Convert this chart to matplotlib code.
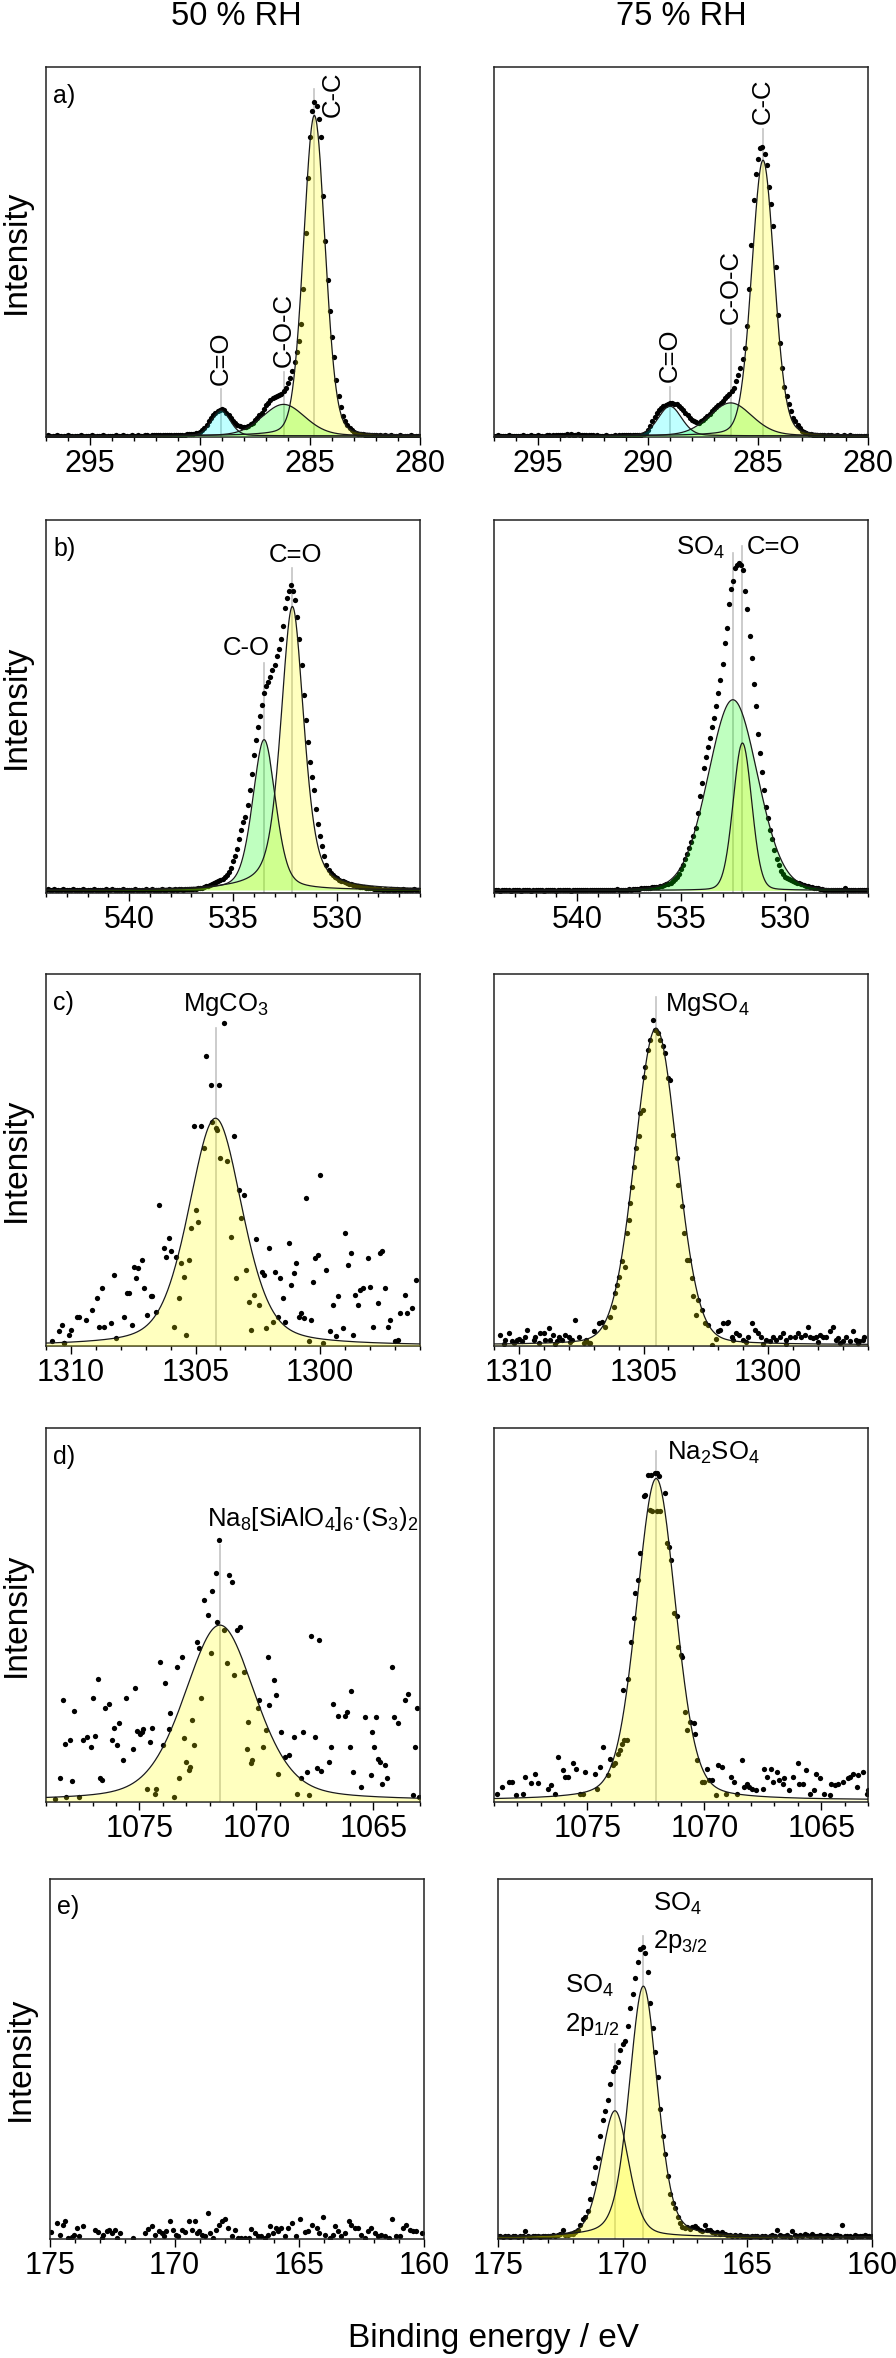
import matplotlib.pyplot as plt
import numpy as np
from matplotlib.ticker import MultipleLocator, FormatStrFormatter

plt.rcParams['font.family'] = ['Liberation Sans', 'DejaVu Sans']
plt.rcParams['mathtext.fontset'] = 'custom'
plt.rcParams['mathtext.rm'] = 'Liberation Sans'
plt.rcParams['mathtext.it'] = 'Liberation Sans:italic'
plt.rcParams['mathtext.default'] = 'regular'

# ---------------- data (intensity in % of panel height) ----------------
# C 1s, 50 % RH, 0.1 eV steps from 297.0 eV
a50_start = 297.0
a50_int = [0.3, 0.4, 0.3, 0.2, 0.3, 0.4, 0.3, 0.3, 0.2, 0.3,
           0.4, 0.3, 0.3, 0.2, 0.3, 0.3, 0.4, 0.3, 0.2, 0.3,
           0.3, 0.4, 0.3, 0.3, 0.2, 0.3, 0.4, 0.3, 0.3, 0.3,
           0.2, 0.3, 0.4, 0.3, 0.3, 0.4, 0.3, 0.2, 0.3, 0.4,
           0.3, 0.3, 0.4, 0.3, 0.3, 0.4, 0.4, 0.3, 0.4, 0.4,
           0.4, 0.5, 0.4, 0.4, 0.5, 0.5, 0.4, 0.5, 0.5, 0.5,
           0.5, 0.5, 0.6, 0.6, 0.7, 0.7, 0.8, 0.9, 1.0, 1.1,
           1.3, 1.8, 2.5, 3.3, 4.2, 5.0, 5.8, 6.5, 7.0, 7.4,
           7.5, 7.2, 6.6, 5.9, 5.1, 4.4, 3.8, 3.3, 3.0, 2.8,
           2.7, 2.8, 3.0, 3.4, 3.9, 4.5, 5.1, 5.9, 6.6, 7.5,
           8.5, 9.3, 10.0, 10.5, 10.9, 11.1, 11.3, 11.7, 12.3, 13.2,
           14.5, 15.9, 17.8, 20.2, 23.0, 26.0, 30.5, 40.0, 55.0, 70.0,
           81.0, 88.0, 90.5, 89.5, 86.0, 81.0, 65.0, 53.0, 42.5, 34.0,
           27.0, 21.5, 15.5, 11.0, 8.0, 5.7, 4.3, 3.3, 2.4, 1.8,
           1.4, 1.1, 0.9, 0.8, 0.7, 0.6, 0.5, 0.5, 0.4, 0.4,
           0.4, 0.3, 0.4, 0.3, 0.4, 0.3, 0.3, 0.4, 0.3, 0.3,
           0.3, 0.4, 0.3, 0.3, 0.2, 0.3, 0.4, 0.3, 0.3, 0.3,
           0.3]
# C 1s, 75 % RH
a75_start = 297.0
a75_int = [0.3, 0.3, 0.4, 0.3, 0.2, 0.3, 0.3, 0.4, 0.3, 0.3,
           0.3, 0.2, 0.3, 0.4, 0.3, 0.3, 0.3, 0.4, 0.3, 0.3,
           0.4, 0.3, 0.3, 0.3, 0.4, 0.4, 0.3, 0.4, 0.5, 0.5,
           0.6, 0.5, 0.6, 0.7, 0.6, 0.7, 0.6, 0.6, 0.7, 0.6,
           0.5, 0.6, 0.5, 0.5, 0.4, 0.4, 0.3, 0.4, 0.3, 0.3,
           0.3, 0.4, 0.3, 0.3, 0.3, 0.4, 0.3, 0.4, 0.4, 0.4,
           0.4, 0.4, 0.5, 0.4, 0.5, 0.5, 0.5, 0.6, 0.7, 1.1,
           1.8, 2.9, 4.2, 5.4, 6.4, 7.2, 7.8, 8.3, 8.7, 9.0,
           9.2, 9.1, 9.0, 8.8, 8.4, 7.9, 7.2, 6.5, 5.9, 5.2,
           4.6, 4.2, 4.0, 3.9, 4.3, 4.7, 5.1, 5.6, 6.3, 6.9,
           7.5, 8.0, 8.6, 9.3, 9.8, 10.4, 11.0, 11.7, 12.4, 13.2,
           15.0, 16.8, 18.6, 21.0, 24.0, 30.0, 40.0, 52.0, 64.0, 71.0,
           75.0, 78.0, 78.5, 76.5, 73.5, 67.5, 63.0, 57.0, 46.0, 33.0,
           25.5, 18.5, 13.5, 11.0, 9.0, 7.0, 5.2, 4.4, 3.2, 2.3,
           1.7, 1.3, 1.0, 0.8, 0.7, 0.6, 0.5, 0.5, 0.4, 0.4,
           0.4, 0.3, 0.4, 0.4, 0.3, 0.3, 0.4, 0.3, 0.3, 0.4,
           0.3, 0.3, 0.4, 0.3, 0.3, 0.3, 0.2, 0.3, 0.3, 0.3,
           0.3]
# O 1s, 50 % RH, 0.1 eV steps from 544.0 eV
b50_start = 544.0
b50_int = [0.9, 1.0, 0.8, 0.9, 1.0, 0.9, 0.8, 0.9, 1.0, 0.9,
           0.8, 0.9, 0.9, 1.0, 0.9, 0.8, 0.9, 0.9, 1.0, 0.9,
           0.9, 0.8, 0.9, 1.0, 0.9, 0.9, 0.8, 0.9, 0.9, 1.0,
           0.9, 0.9, 1.0, 0.9, 0.8, 0.9, 0.9, 1.0, 0.9, 0.9,
           0.8, 0.9, 0.9, 1.0, 0.9, 0.9, 0.8, 0.9, 1.0, 0.9,
           0.9, 1.0, 0.9, 0.9, 0.8, 0.9, 1.0, 0.9, 0.9, 1.0,
           0.9, 0.9, 1.0, 0.9, 1.0, 1.0, 0.9, 1.0, 1.0, 1.1,
           1.0, 1.0, 1.1, 1.2, 1.3, 1.4, 1.6, 1.8, 2.0, 2.2,
           2.4, 2.6, 2.9, 3.1, 3.4, 3.8, 4.2, 4.8, 5.6, 6.8,
           8.5, 10.0, 11.8, 14.5, 17.0, 19.0, 20.5, 23.5, 27.5, 32.0,
           37.0, 41.0, 44.5, 47.5, 50.5, 53.5, 55.5, 56.5, 58.0, 59.8,
           61.2, 63.5, 65.5, 68.0, 71.5, 76.5, 79.0, 81.0, 82.5, 81.0,
           78.5, 74.0, 68.0, 61.0, 53.0, 46.5, 40.5, 35.0, 31.0, 27.5,
           22.5, 18.5, 15.3, 12.5, 10.0, 7.4, 6.2, 5.3, 4.8, 4.2,
           3.9, 3.6, 3.3, 3.1, 2.9, 2.7, 2.5, 2.3, 2.1, 1.9,
           1.8, 1.7, 1.6, 1.5, 1.4, 1.3, 1.2, 1.2, 1.1, 1.1,
           1.0, 1.0, 0.9, 1.0, 0.9, 0.9, 1.0, 0.9, 0.9, 1.0,
           0.9, 0.9, 1.0, 0.9, 0.8, 0.9, 0.9, 1.0, 0.9, 0.9,
           0.9]
# O 1s, 75 % RH
b75_start = 544.0
b75_int = [0.7, 0.8, 0.7, 0.6, 0.7, 0.8, 0.7, 0.7, 0.6, 0.7,
           0.8, 0.7, 0.7, 0.6, 0.7, 0.7, 0.8, 0.7, 0.6, 0.7,
           0.7, 0.8, 0.7, 0.7, 0.6, 0.7, 0.8, 0.7, 0.7, 0.7,
           0.6, 0.7, 0.8, 0.7, 0.7, 0.8, 0.7, 0.6, 0.7, 0.8,
           0.7, 0.7, 0.8, 0.7, 0.7, 0.8, 0.8, 0.7, 0.8, 0.8,
           0.8, 0.9, 0.8, 0.8, 0.9, 0.9, 0.8, 0.9, 0.9, 1.0,
           0.8, 0.9, 0.8, 0.9, 0.9, 1.0, 0.9, 1.0, 1.0, 1.1,
           1.1, 1.2, 1.2, 1.3, 1.3, 1.4, 1.5, 1.6, 1.6, 1.7,
           1.8, 2.0, 2.1, 2.3, 2.5, 2.8, 3.2, 3.7, 4.3, 5.2,
           6.3, 7.5, 9.0, 10.5, 12.0, 13.6, 15.4, 17.5, 21.5, 26.0,
           29.5, 33.5, 36.5, 39.0, 41.5, 44.5, 47.0, 50.0, 53.5, 57.0,
           61.5, 67.0, 71.0, 77.5, 81.5, 83.5, 87.0, 88.0, 88.5, 88.0,
           86.5, 81.0, 76.0, 69.0, 63.0, 56.0, 50.0, 42.5, 37.5, 32.5,
           27.5, 23.0, 20.0, 17.0, 14.5, 11.5, 9.2, 7.5, 6.0, 5.0,
           4.4, 4.0, 3.8, 3.6, 3.3, 3.0, 2.8, 2.6, 2.3, 2.1,
           2.0, 1.8, 1.7, 1.6, 1.4, 1.3, 1.2, 1.1, 1.0, 0.9,
           0.9, 0.8, 0.9, 0.8, 0.8, 0.9, 0.8, 0.8, 0.9, 1.3,
           0.8, 0.8, 0.7, 0.8, 0.8, 0.7, 0.8, 0.8, 0.7, 0.8,
           0.7]
# Mg KLL, 50 % RH: (binding energy, intensity)
c50_pts = [(1310.74, 1.2), (1310.47, 3.9), (1310.34, 5.6), (1310.27, 0.7), (1310.07, 3.0), (1310.0, 4.3),
           (1309.74, 7.9), (1309.67, 7.9), (1309.38, 7.0), (1309.16, 9.7), (1308.94, 12.8), (1308.87, 5.2),
           (1308.74, 15.5), (1308.67, 5.2), (1308.4, 6.1), (1308.27, 19.1), (1308.18, 2.1), (1307.87, 7.9),
           (1307.74, 14.2), (1307.67, 14.2), (1307.56, 5.6), (1307.47, 21.3), (1307.38, 18.2), (1307.3, 20.9),
           (1307.16, 23.1), (1307.07, 15.5), (1306.96, 8.3), (1306.8, 13.3), (1306.74, 13.3), (1306.6, 9.2),
           (1306.47, 37.9), (1306.27, 26.3), (1306.2, 24.0), (1306.07, 28.9), (1306.0, 25.4), (1305.87, 5.2),
           (1305.8, 24.0), (1305.67, 12.8), (1305.6, 22.2), (1305.47, 18.6), (1305.38, 3.0), (1305.27, 23.1),
           (1305.2, 31.6), (1305.07, 59.0), (1304.98, 36.6), (1304.9, 33.4), (1304.8, 59.0), (1304.67, 53.1),
           (1304.58, 77.8), (1304.4, 70.2), (1304.34, 60.3), (1304.2, 58.5), (1304.14, 58.1), (1304.07, 70.2),
           (1304.0, 50.4), (1303.87, 86.7), (1303.74, 49.6), (1303.56, 29.4), (1303.47, 56.3), (1303.38, 18.2),
           (1303.27, 41.9), (1303.16, 34.3), (1303.07, 40.6), (1302.98, 20.4), (1302.87, 11.9), (1302.76, 4.3),
           (1302.67, 13.7), (1302.58, 28.7), (1302.47, 11.0), (1302.34, 20.0), (1302.27, 19.1), (1302.16, 4.7),
           (1302.07, 26.3), (1301.91, 6.5), (1301.8, 20.0), (1301.7, 7.9), (1301.6, 18.2), (1301.5, 12.8),
           (1301.4, 6.5), (1301.27, 27.6), (1301.16, 16.4), (1301.07, 19.5), (1300.96, 22.2), (1300.87, 7.9),
           (1300.76, 8.8), (1300.67, 7.4), (1300.58, 39.7), (1300.47, 1.2), (1300.36, 7.0), (1300.27, 17.3),
           (1300.2, 23.6), (1300.1, 24.5), (1300.0, 46.0), (1299.87, 0.7), (1299.76, 20.4), (1299.6, 3.9),
           (1299.47, 11.0), (1299.38, 2.7), (1299.27, 13.3), (1299.07, 4.7), (1299.0, 30.3), (1298.87, 21.8),
           (1298.76, 24.9), (1298.67, 3.0), (1298.6, 13.7), (1298.5, 11.0), (1298.4, 15.1), (1298.3, 15.5),
           (1298.1, 23.6), (1298.0, 15.9), (1297.87, 5.2), (1297.7, 11.5), (1297.6, 24.9), (1297.54, 25.4),
           (1297.4, 15.5), (1297.3, 5.2), (1297.2, 7.0), (1297.0, 1.2), (1296.87, 1.6), (1296.8, 8.8),
           (1296.6, 13.7), (1296.5, 8.8), (1296.31, 10.1), (1296.14, 17.7), (1310.27, 0.7)]
# Mg KLL, 75 % RH
c75_pts = [(1310.76, 3.0), (1310.54, 1.6), (1310.4, 3.4), (1310.27, 1.2), (1310.2, 0.7), (1310.07, 1.6),
           (1309.87, 1.2), (1309.74, 2.5), (1309.67, 4.3), (1309.4, 1.6), (1309.34, 2.5), (1309.14, 3.4),
           (1309.0, 3.4), (1308.94, 1.6), (1308.8, 4.7), (1308.74, 1.6), (1308.63, 3.0), (1308.47, 1.2),
           (1308.4, 2.5), (1308.27, 1.6), (1308.14, 3.0), (1308.0, 2.5), (1307.87, 1.6), (1307.74, 7.0),
           (1307.6, 2.5), (1307.4, 0.7), (1307.2, 0.7), (1307.14, 0.7), (1307.0, 3.9), (1306.8, 6.1),
           (1306.67, 6.5), (1306.54, 5.2), (1306.34, 7.9), (1306.2, 10.6), (1306.14, 14.2), (1306.07, 16.4),
           (1306.0, 18.6), (1305.87, 22.7), (1305.74, 21.3), (1305.67, 30.3), (1305.6, 33.9), (1305.56, 38.4),
           (1305.47, 42.8), (1305.4, 48.2), (1305.3, 53.1), (1305.2, 56.3), (1305.14, 62.5), (1305.03, 63.4),
           (1305.0, 72.4), (1304.94, 75.1), (1304.83, 79.6), (1304.74, 82.3), (1304.63, 87.6), (1304.54, 84.9),
           (1304.44, 84.1), (1304.34, 82.3), (1304.23, 80.5), (1304.14, 78.7), (1304.0, 72.0), (1303.94, 71.5),
           (1303.8, 56.7), (1303.67, 50.4), (1303.6, 43.3), (1303.47, 37.5), (1303.38, 30.3), (1303.27, 23.1),
           (1303.16, 23.1), (1303.07, 18.2), (1303.0, 13.3), (1302.9, 8.3), (1302.8, 12.4), (1302.67, 9.7),
           (1302.54, 6.1), (1302.4, 5.6), (1302.27, 0.3), (1302.1, 2.0), (1302.0, 3.9), (1301.94, 4.3),
           (1301.8, 6.1), (1301.67, 6.1), (1301.6, 6.5), (1301.47, 2.5), (1301.4, 1.6), (1301.3, 3.5),
           (1301.16, 3.0), (1301.0, 1.6), (1300.9, 1.0), (1300.8, 2.5), (1300.67, 6.1), (1300.54, 4.3),
           (1300.4, 3.4), (1300.27, 2.5), (1300.2, 0.6), (1300.07, 1.6), (1299.94, 1.2), (1299.8, 2.5),
           (1299.67, 1.6), (1299.54, 2.5), (1299.4, 3.4), (1299.3, 0.6), (1299.27, 1.6), (1299.14, 2.5),
           (1298.94, 2.5), (1298.8, 3.4), (1298.67, 2.5), (1298.54, 3.0), (1298.4, 5.2), (1298.34, 2.5),
           (1298.2, 2.1), (1298.07, 2.5), (1298.0, 1.0), (1297.94, 3.0), (1297.8, 2.5), (1297.67, 2.5),
           (1297.54, 3.9), (1297.4, 5.2), (1297.27, 1.6), (1297.2, 2.2), (1297.14, 0.7), (1297.0, 1.2),
           (1296.87, 2.5), (1296.74, 1.2), (1296.6, 3.9), (1296.47, 1.6), (1296.4, 0.8), (1296.34, 1.2),
           (1296.2, 1.6), (1296.14, 2.5), (1310.6, 0.5), (1310.0, 2.0), (1309.2, 0.9), (1308.55, 0.5),
           (1307.95, 1.0), (1307.3, 1.5)]
# Na KLL, 50 % RH
d50_pts = [(1078.63, 0.9), (1078.39, 6.3), (1078.27, 27.4), (1078.17, 15.6), (1078.13, 1.3), (1077.98, 16.5),
           (1077.88, 5.6), (1077.81, 24.4), (1077.58, 1.2), (1077.41, 16.5), (1077.24, 17.4), (1077.09, 14.7),
           (1076.98, 27.9), (1076.91, 17.6), (1076.79, 32.8), (1076.69, 6.5), (1076.59, 6.0), (1076.48, 25.0),
           (1076.31, 26.3), (1076.19, 16.7), (1076.09, 19.8), (1075.98, 15.2), (1075.88, 21.0), (1075.69, 11.2),
           (1075.59, 27.9), (1075.29, 14.3), (1075.19, 30.4), (1075.09, 19.0), (1074.97, 18.3), (1074.9, 18.8),
           (1074.83, 19.6), (1074.68, 3.6), (1074.57, 16.1), (1074.47, 19.9), (1074.33, 2.2), (1074.28, 3.6),
           (1074.11, 37.5), (1074.01, 15.2), (1073.9, 31.9), (1073.75, 19.6), (1073.68, 23.7), (1073.51, 1.3),
           (1073.39, 36.0), (1073.29, 6.3), (1073.18, 38.7), (1073.11, 17.1), (1072.99, 10.7), (1072.89, 8.5),
           (1072.85, 9.4), (1072.75, 21.9), (1072.68, 15.2), (1072.53, 42.9), (1072.46, 41.1), (1072.36, 27.7),
           (1072.25, 54.0), (1072.07, 50.0), (1071.96, 39.9), (1071.89, 56.3), (1071.74, 61.2), (1071.67, 48.2),
           (1071.6, 70.1), (1071.38, 46.0), (1071.24, 37.1), (1071.17, 60.7), (1071.03, 58.9), (1070.95, 33.9),
           (1070.81, 46.0), (1070.7, 46.7), (1070.52, 34.8), (1070.42, 14.3), (1070.35, 21.4), (1070.24, 10.3),
           (1070.17, 11.2), (1069.95, 25.0), (1069.88, 27.2), (1069.73, 14.7), (1069.59, 19.2), (1069.52, 38.8),
           (1069.45, 25.9), (1069.26, 32.6), (1069.16, 28.6), (1069.06, 7.6), (1068.95, 18.8), (1068.77, 12.1),
           (1068.59, 12.5), (1068.37, 17.4), (1068.26, 2.2), (1068.11, 6.3), (1068.01, 18.8), (1067.83, 8.0),
           (1067.73, 1.8), (1067.65, 44.4), (1067.51, 17.4), (1067.4, 9.2), (1067.3, 43.3), (1067.22, 8.3),
           (1066.91, 10.7), (1066.82, 14.7), (1066.72, 26.1), (1066.51, 22.9), (1066.22, 22.9), (1066.1, 24.1),
           (1066.0, 14.7), (1065.93, 29.7), (1065.86, 8.0), (1065.53, 4.0), (1065.36, 22.8), (1065.1, 7.1),
           (1065.04, 18.8), (1064.96, 14.7), (1064.86, 22.8), (1064.81, 11.6), (1064.71, 10.7), (1064.61, 4.9),
           (1064.5, 9.8), (1064.4, 6.3), (1064.21, 36.0), (1064.1, 22.6), (1063.92, 21.2), (1063.64, 27.2),
           (1063.52, 29.0), (1063.28, 1.8), (1063.21, 14.7), (1063.14, 25.0), (1063.06, 1.3)]
# Na KLL, 75 % RH
d75_pts = [(1078.85, 2.2), (1078.67, 4.0), (1078.34, 5.4), (1078.24, 5.4), (1078.06, 1.8), (1077.77, 2.2),
           (1077.67, 6.7), (1077.41, 5.1), (1077.24, 7.6), (1077.12, 5.1), (1076.69, 3.6), (1076.55, 4.5),
           (1076.41, 2.2), (1076.26, 12.1), (1076.05, 8.5), (1075.98, 6.7), (1075.83, 6.7), (1075.62, 10.3),
           (1075.47, 8.9), (1075.33, 2.2), (1075.19, 2.2), (1075.11, 8.0), (1074.68, 7.6), (1074.61, 3.6),
           (1074.47, 9.4), (1074.35, 14.7), (1074.11, 7.1), (1074.04, 11.6), (1073.9, 9.8), (1073.82, 10.3),
           (1073.68, 12.9), (1073.61, 13.8), (1073.54, 15.6), (1073.42, 16.5), (1073.32, 16.7), (1073.46, 29.9),
           (1073.25, 33.0), (1073.13, 42.9), (1073.03, 49.1), (1072.96, 55.8), (1072.85, 59.4), (1072.75, 66.5),
           (1072.6, 81.7), (1072.53, 82.1), (1072.39, 87.5), (1072.27, 87.5), (1072.1, 87.9), (1072.03, 87.9),
           (1071.96, 87.1), (1072.32, 78.1), (1072.22, 77.7), (1072.03, 77.7), (1071.89, 77.7), (1071.7, 82.6),
           (1071.6, 69.2), (1071.53, 68.3), (1071.41, 64.7), (1071.31, 50.4), (1071.17, 49.6), (1071.13, 41.5),
           (1071.0, 39.3), (1070.95, 38.8), (1070.81, 24.1), (1070.74, 19.2), (1070.6, 21.4), (1070.45, 21.0),
           (1070.38, 18.3), (1070.31, 11.2), (1070.12, 5.4), (1070.02, 5.4), (1069.88, 8.9), (1069.81, 5.8),
           (1069.66, 5.8), (1069.52, 1.8), (1069.4, 9.8), (1069.23, 9.4), (1069.06, 2.2), (1068.87, 6.7),
           (1068.73, 5.4), (1068.59, 2.2), (1068.4, 11.2), (1068.3, 4.0), (1068.19, 4.9), (1068.08, 4.0),
           (1067.94, 3.6), (1067.8, 3.1), (1067.51, 3.6), (1067.44, 8.9), (1067.3, 6.7), (1067.15, 8.9),
           (1067.08, 5.4), (1066.87, 8.0), (1066.79, 5.8), (1066.65, 4.9), (1066.58, 6.3), (1066.39, 3.1),
           (1066.22, 6.7), (1066.0, 10.3), (1065.93, 4.9), (1065.79, 4.9), (1065.65, 8.5), (1065.5, 2.2),
           (1065.29, 3.1), (1065.21, 7.6), (1065.07, 6.3), (1064.86, 2.2), (1064.64, 1.8), (1064.57, 4.9),
           (1064.43, 4.5), (1064.28, 4.9), (1064.07, 5.4), (1063.85, 6.3), (1063.78, 6.7), (1063.64, 7.6),
           (1063.49, 4.0), (1063.42, 7.1), (1063.21, 8.0), (1063.06, 2.2), (1062.98, 3.1)]
# S 2p, 50 % RH
e50_pts = [(174.97, 1.9), (174.73, 4.4), (174.6, 1.2), (174.49, 4.0), (174.4, 4.9), (174.27, 0.3),
           (174.13, 0.6), (174.04, 1.2), (173.93, 3.1), (173.82, 0.7), (173.66, 3.5), (173.2, 2.6),
           (173.06, 1.9), (172.93, 0.3), (172.86, 1.2), (172.73, 2.1), (172.62, 2.6), (172.53, 1.7),
           (172.4, 2.6), (172.3, 0.3), (172.2, 1.7), (171.66, 0.3), (171.19, 1.7), (171.06, 2.8),
           (170.89, 3.7), (170.79, 1.2), (170.62, 2.1), (170.49, 1.7), (170.42, 0.7), (170.33, 2.1),
           (170.17, 4.9), (170.06, 2.6), (169.95, 1.2), (169.86, 0.7), (169.72, 2.6), (169.59, 1.9),
           (169.42, 4.9), (169.32, 2.6), (169.19, 4.9), (169.12, 1.7), (169.02, 2.1), (168.92, 1.2),
           (168.79, 0.7), (168.66, 7.2), (168.59, 1.7), (168.46, 0.3), (168.35, 2.6), (168.21, 4.0),
           (168.12, 4.9), (167.99, 5.4), (167.85, 3.1), (167.72, 0.9), (167.59, 2.6), (167.45, 0.3),
           (167.32, 0.3), (167.19, 0.3), (167.01, 0.3), (166.92, 2.8), (166.79, 1.7), (166.65, 0.9),
           (166.52, 0.7), (166.39, 0.3), (166.25, 1.2), (166.16, 3.5), (166.05, 1.7), (165.94, 3.1),
           (165.85, 2.1), (165.72, 3.1), (165.58, 0.9), (165.45, 3.1), (165.28, 4.4), (165.12, 0.7),
           (164.98, 5.4), (164.78, 1.9), (164.65, 2.1), (164.48, 4.0), (164.31, 3.1), (164.21, 1.7),
           (164.07, 6.1), (163.98, 1.2), (163.78, 0.3), (163.65, 1.2), (163.58, 3.5), (163.45, 2.1),
           (163.31, 0.7), (163.18, 1.7), (163.01, 4.9), (162.91, 4.0), (162.78, 3.1), (162.65, 3.1),
           (162.51, 1.2), (162.38, 0.3), (162.24, 2.1), (162.11, 3.1), (161.98, 1.7), (161.84, 0.7),
           (161.71, 1.2), (161.58, 0.7), (161.4, 0.3), (161.27, 5.4), (161.11, 0.7), (160.98, 0.7),
           (160.84, 3.1), (160.71, 4.0), (160.57, 2.6), (160.44, 2.1), (160.31, 2.1), (160.07, 1.7)]
# S 2p, 75 % RH, 0.1 eV steps from 175.0 eV
e75_start = 175.0
e75_int = [0.7, 0.8, 0.6, 0.9, 0.7, 0.5, 0.8, 0.7, 0.6, 0.8,
           0.7, 2.1, 0.8, 0.6, 0.9, 0.7, 0.8, 0.5, 0.7, 0.9,
           0.8, 0.7, 1.0, 0.8, 1.1, 1.3, 2.6, 1.2, 1.0, 1.3,
           1.3, 1.8, 2.5, 3.8, 5.5, 6.2, 7.8, 11.0, 15.5, 20.0,
           22.5, 28.5, 33.0, 35.5, 38.5, 43.0, 46.5, 47.8, 49.0, 52.5,
           54.0, 55.0, 59.0, 64.0, 68.0, 72.5, 77.0, 80.5, 81.0, 79.5,
           74.0, 65.5, 58.5, 52.0, 45.0, 36.0, 28.5, 23.5, 17.5, 12.5,
           10.0, 8.6, 6.0, 4.5, 3.4, 3.1, 3.2, 2.8, 3.3, 3.5,
           2.9, 2.4, 2.2, 3.9, 2.6, 2.4, 2.0, 1.6, 1.8, 1.5,
           2.0, 1.3, 1.0, 1.1, 0.9, 1.2, 0.8, 1.0, 0.7, 0.9,
           0.8, 0.6, 0.9, 0.7, 0.8, 0.5, 0.7, 0.8, 0.6, 0.9,
           1.0, 0.8, 2.4, 1.2, 0.7, 0.9, 1.1, 0.6, 2.3, 1.0,
           0.8, 1.2, 0.9, 1.4, 1.1, 0.7, 1.3, 0.9, 0.8, 1.0,
           0.7, 0.9, 1.1, 0.8, 0.6, 1.0, 1.0, 0.9, 3.8, 0.8,
           0.7, 0.9, 0.6, 1.0, 0.8, 0.9, 0.7, 1.1, 0.8, 0.7,
           0.8]

# fitted components: (centre eV, height, fwhm eV, lorentzian fraction)
a50_peaks = [(289.05, 6.9, 1.0, 0.2), (286.2, 8.5, 2.3, 0.2), (284.8, 86.6, 1.15, 0.15)]
a75_peaks = [(289.0, 8.0, 1.25, 0.2), (286.24, 8.9, 2.3, 0.2), (284.77, 74.5, 1.2, 0.15)]
b50_peaks = [(533.5, 40.3, 1.3, 0.35), (532.14, 76.0, 1.31, 0.5)]
b75_peaks = [(532.5, 51.1, 2.8, 0.1), (532.04, 39.5, 1.05, 0.1)]
c50_peaks = [(1304.2, 61.2, 2.55, 0.37)]
c75_peaks = [(1304.5, 85.1, 2.0, 0.12)]
d50_peaks = [(1071.56, 47.0, 3.6, 0.35)]
d75_peaks = [(1072.06, 86.0, 1.98, 0.25)]
e75_peaks = [(170.31, 35.1, 1.29, 0.3), (169.17, 69.7, 1.34, 0.3)]

CYAN, GREEN, YELLOW = '#00FFFF', '#00FF00', '#FFFF00'


def pvoigt(x, c, h, w, eta):
    g = np.exp(-4 * np.log(2) * (x - c) ** 2 / w ** 2)
    lo = 1 / (1 + 4 * (x - c) ** 2 / w ** 2)
    return h * ((1 - eta) * g + eta * lo)


def grid(start, vals):
    return start - 0.1 * np.arange(len(vals)), np.array(vals)


def pts(p):
    arr = np.array(p)
    return arr[:, 0], arr[:, 1]


panels = [
    dict(pos=(0.0513, 0.8147, 0.1569), xlim=(297, 280), data=grid(a50_start, a50_int), bg=0.3,
         peaks=a50_peaks, colors=[CYAN, GREEN, YELLOW], letter='a)',
         lines=[(289.05, 13.0), (286.2, 17.6), (284.8, 94.0)],
         labels=[('C=O', 289.05, 14.0, 'center', 'bottom', 90), ('C-O-C', 286.2, 19.0, 'center', 'bottom', 90),
                 ('C-C', 283.97, 86.5, 'center', 'bottom', 90)]),
    dict(pos=(0.5513, 0.8147, 0.1569), xlim=(297, 280), data=grid(a75_start, a75_int), bg=0.3,
         peaks=a75_peaks, colors=[CYAN, GREEN, YELLOW], letter=None,
         lines=[(289.0, 13.5), (286.24, 29.3), (284.77, 83.3)],
         labels=[('C=O', 289.0, 14.9, 'center', 'bottom', 90), ('C-O-C', 286.24, 30.6, 'center', 'bottom', 90),
                 ('C-C', 284.77, 84.7, 'center', 'bottom', 90)]),
    dict(pos=(0.0513, 0.6213, 0.1582), xlim=(544, 526), data=grid(b50_start, b50_int), bg=0.8,
         peaks=b50_peaks, colors=[GREEN, YELLOW], letter='b)',
         lines=[(533.5, 61.6), (532.14, 87.0)],
         labels=[('C-O', 534.35, 63.8, 'center', 'baseline', 0), ('C=O', 532.0, 88.8, 'center', 'baseline', 0)]),
    dict(pos=(0.5513, 0.6213, 0.1582), xlim=(544, 526), data=grid(b75_start, b75_int), bg=0.7,
         peaks=b75_peaks, colors=[GREEN, YELLOW], letter=None,
         lines=[(532.5, 91.1), (532.04, 93.0)],
         labels=[('SO$_4$', 532.9, 90.6, 'right', 'baseline', 0), ('C=O', 531.85, 90.9, 'left', 'baseline', 0)]),
    dict(pos=(0.0513, 0.4292, 0.1578), xlim=(1311, 1296), data=pts(c50_pts), bg=0.0,
         peaks=c50_peaks, colors=[YELLOW], letter='c)',
         lines=[(1304.2, 85.4)],
         labels=[('MgCO$_3$', 1303.78, 89.9, 'center', 'baseline', 0)]),
    dict(pos=(0.5513, 0.4292, 0.1578), xlim=(1311, 1296), data=pts(c75_pts), bg=0.3,
         peaks=c75_peaks, colors=[YELLOW], letter=None,
         lines=[(1304.5, 93.9)],
         labels=[('MgSO$_4$', 1304.14, 89.9, 'left', 'baseline', 0)]),
    dict(pos=(0.0513, 0.2358, 0.1586), xlim=(1079, 1063), data=pts(d50_pts), bg=0.3,
         peaks=d50_peaks, colors=[YELLOW], letter='d)',
         lines=[(1071.56, 68.8)],
         labels=[('Na$_8$[SiAlO$_4$]$_6$·(S$_3$)$_2$', 1072.13, 73.7, 'left', 'baseline', 0)]),
    dict(pos=(0.5513, 0.2358, 0.1586), xlim=(1079, 1063), data=pts(d75_pts), bg=0.5,
         peaks=d75_peaks, colors=[YELLOW], letter=None,
         lines=[(1072.06, 93.75)],
         labels=[('Na$_2$SO$_4$', 1071.6, 91.5, 'left', 'baseline', 0)]),
    dict(pos=(0.0558, 0.0505, 0.1527), xlim=(175, 160), data=pts(e50_pts), bg=0.0,
         peaks=[], colors=[], letter='e)', lines=[], labels=[]),
    dict(pos=(0.5558, 0.0505, 0.1527), xlim=(175, 160), data=grid(e75_start, e75_int), bg=0.5,
         peaks=e75_peaks, colors=[YELLOW, YELLOW], letter=None,
         lines=[(170.31, 54.0), (169.17, 84.0)],
         labels=[('SO$_4$', 172.32, 68.3, 'left', 'baseline', 0), ('2p$_{1/2}$', 172.32, 57.7, 'left', 'baseline', 0),
                 ('SO$_4$', 168.77, 91.0, 'left', 'baseline', 0), ('2p$_{3/2}$', 168.77, 80.8, 'left', 'baseline', 0)]),
]

fig = plt.figure(figsize=(8.96, 23.58), dpi=100)
W = 0.4174

for i, p in enumerate(panels):
    x0, y0, h = p['pos']
    ax = fig.add_axes([x0, y0, W, h])
    be, inten = p['data']
    ax.plot(be, inten, 'o', ms=3.8, color='black', mec='none', zorder=2)

    xs = np.linspace(min(p['xlim']), max(p['xlim']), 1500)
    for (c, hgt, w, eta), col in zip(p['peaks'], p['colors']):
        yfit = p['bg'] + pvoigt(xs, c, hgt, w, eta)
        ax.fill_between(xs, p['bg'], yfit, color=col, alpha=0.25, lw=0, zorder=3)
        ax.plot(xs, yfit, color='#1a1a1a', lw=0.9, zorder=4)

    for lx, ltop in p['lines']:
        ax.plot([lx, lx], [0, ltop], color='#c4c4c4', lw=1.2, zorder=1.5)

    for txt, tx, ty, ha, va, rot in p['labels']:
        ax.text(tx, ty, txt, ha=ha, va=va, rotation=rot, fontsize=18.5, zorder=5)

    if p['letter']:
        ax.text(0.02, 0.955, p['letter'], transform=ax.transAxes, ha='left', va='top', fontsize=18)
        ax.set_ylabel('Intensity', fontsize=24)
        ax.yaxis.set_label_coords(-0.037, 0.5)

    ax.set_xlim(*p['xlim'])
    ax.set_ylim(0, 100)
    ax.set_yticks([])
    ax.xaxis.set_major_locator(MultipleLocator(5))
    ax.xaxis.set_minor_locator(MultipleLocator(1))
    ax.xaxis.set_major_formatter(FormatStrFormatter('%d'))
    ax.tick_params(axis='x', which='major', direction='out', length=5.5, width=1.0, labelsize=22, pad=3)
    ax.tick_params(axis='x', which='minor', direction='out', length=3, width=1.0)
    for s in ax.spines.values():
        s.set_linewidth(1.1)
        s.set_color('#222222')

fig.text(236 / 896, 1 - 25 / 2358, '50 % RH', ha='center', va='baseline', fontsize=23.5)
fig.text(681 / 896, 1 - 25 / 2358, '75 % RH', ha='center', va='baseline', fontsize=23.5)
fig.text(493 / 896, 11.5 / 2358, 'Binding energy / eV', ha='center', va='baseline', fontsize=24)

fig.savefig('out.png', dpi=100)
